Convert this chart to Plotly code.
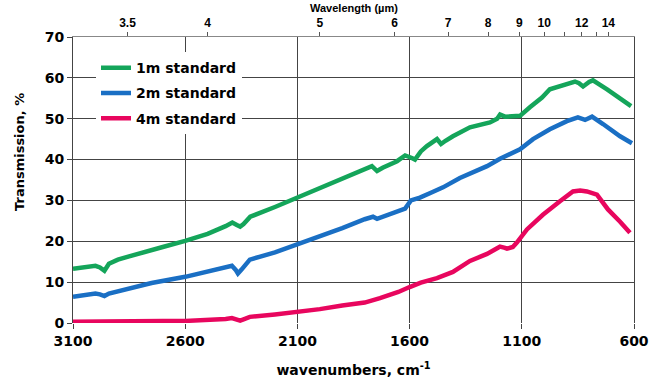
import plotly.graph_objects as go

# ---- data ----
wn_1m = [3100, 3050, 3000, 2980, 2960, 2940, 2900, 2850, 2800, 2700, 2600, 2500, 2420, 2390,
         2370, 2355, 2340, 2310, 2200, 2100, 2000, 1900, 1800, 1768, 1745, 1720, 1656, 1620,
         1590, 1576, 1550, 1523, 1478, 1460, 1440, 1407, 1331, 1270, 1242, 1210, 1197, 1175,
         1108, 1064, 1010, 975, 930, 863, 845, 827, 800, 783, 720, 662, 613]
t_1m = [13.3, 13.7, 14.0, 13.6, 12.8, 14.5, 15.5, 16.3, 17.0, 18.6, 20.1, 21.8, 23.7, 24.6,
        24.0, 23.6, 24.2, 26.0, 28.4, 30.7, 33.0, 35.5, 37.6, 38.4, 37.2, 38.0, 39.6, 41.0,
        40.4, 40.0, 42.0, 43.3, 45.0, 43.8, 44.6, 45.7, 47.9, 48.6, 49.1, 50.0, 51.0, 50.5,
        50.7, 52.8, 55.2, 57.2, 57.9, 59.1, 58.7, 57.9, 59.0, 59.4, 57.2, 55.0, 53.1]

wn_2m = [3100, 3050, 3000, 2980, 2960, 2940, 2900, 2846, 2750, 2600, 2500, 2420, 2392, 2375,
         2365, 2350, 2312, 2200, 2100, 2000, 1900, 1800, 1763, 1745, 1700, 1652, 1620, 1594,
         1554, 1500, 1451, 1376, 1300, 1255, 1197, 1108, 1050, 975, 899, 850, 818, 787, 738,
         662, 609]
t_2m = [6.4, 6.8, 7.2, 7.0, 6.6, 7.2, 7.8, 8.6, 9.8, 11.3, 12.6, 13.6, 14.0, 13.0,
        12.1, 13.0, 15.5, 17.3, 19.2, 21.1, 23.2, 25.4, 26.0, 25.5, 26.5, 27.3, 28.0, 30.0,
        30.7, 32.0, 33.2, 35.5, 37.3, 38.4, 40.2, 42.5, 45.0, 47.4, 49.4, 50.3, 49.7, 50.5, 48.7,
        45.7, 44.0]

wn_4m = [3100, 3000, 2900, 2800, 2700, 2600, 2500, 2420, 2392, 2370, 2355, 2340, 2312, 2200,
         2100, 2000, 1900, 1800, 1732, 1700, 1650, 1600, 1550, 1478, 1440, 1407, 1331, 1255,
         1210, 1197, 1175, 1166, 1140, 1122, 1077, 1006, 930, 872, 840, 810, 765, 716, 662, 618]
t_4m = [0.3, 0.4, 0.4, 0.4, 0.5, 0.5, 0.7, 1.0, 1.2, 0.8, 0.6, 0.9, 1.5, 2.1,
        2.7, 3.4, 4.3, 5.0, 6.1, 6.6, 7.6, 8.8, 9.9, 11.0, 11.8, 12.5, 15.2, 16.9,
        18.3, 18.7, 18.4, 18.2, 18.6, 19.7, 22.9, 26.5, 29.8, 32.2, 32.4, 32.2, 31.4, 27.8, 24.8, 22.1]

series_names = ["1m standard", "2m standard", "4m standard"]
series_colors = ["#14a55a", "#1a6fc4", "#e8065e"]

wn_ticks = [3100, 2600, 2100, 1600, 1100, 600]
y_ticks = [0, 10, 20, 30, 40, 50, 60, 70]
wavelength_um = [3.5, 4, 5, 6, 7, 8, 9, 10, 12, 14]
wavelength_labels = ["3.5", "4", "5", "6", "7", "8", "9", "10", "12", "14"]
wavelength_minor_um = [11, 13]

# ---- figure ----
fig = go.Figure()
for wn, t, name, col in zip([wn_1m, wn_2m, wn_4m], [t_1m, t_2m, t_4m], series_names, series_colors):
    fig.add_trace(go.Scatter(x=wn, y=t, mode="lines", name=name, legendgroup=name,
                             line=dict(color=col, width=4.5)))

# invisible trace to activate top axis
fig.add_trace(go.Scatter(x=[3100, 600], y=[0, 0], xaxis="x2", mode="lines",
                         line=dict(width=0), showlegend=False, hoverinfo="skip"))

main_font = "DejaVu Sans"
grid_col = "#444444"

fig.update_layout(
    width=654, height=379,
    margin=dict(l=73, r=20, t=37, b=56),
    paper_bgcolor="white", plot_bgcolor="white",
    font=dict(family=main_font, color="black"),
    showlegend=True,
    legend=dict(x=0.041, y=0.947, xanchor="left", yanchor="top",
                bgcolor="white", borderwidth=0,
                font=dict(family=main_font, size=14, weight="bold", color="black"),
                itemwidth=30, tracegroupgap=4),
    xaxis=dict(range=[3100, 600], tickvals=wn_ticks, ticktext=[str(v) for v in wn_ticks],
               showgrid=True, gridcolor=grid_col, gridwidth=1, automargin=False,
               ticks="outside", ticklen=5, tickcolor=grid_col,
               showline=False, zeroline=False,
               tickfont=dict(family=main_font, size=14, weight="bold"),
               title=dict(text="wavenumbers, cm<sup>-1</sup>", standoff=17,
                          font=dict(family=main_font, size=14, weight="bold"))),
    xaxis2=dict(range=[3100, 600], overlaying="x", side="top", anchor="y", automargin=False,
                tickvals=[10000 / w for w in wavelength_um], ticktext=wavelength_labels,
                minor=dict(tickmode="array", tickvals=[10000 / w for w in wavelength_minor_um],
                           ticks="outside", ticklen=4, tickcolor="#555555", showgrid=False),
                showgrid=False, zeroline=False, showline=True, linecolor="#888888",
                ticks="outside", ticklen=4, tickcolor="#555555",
                tickfont=dict(family="Liberation Sans", size=12, weight="bold")),
    yaxis=dict(range=[0, 70], tickvals=y_ticks, showgrid=True, gridcolor=grid_col, gridwidth=1,
               zeroline=False, showline=True, linecolor=grid_col, mirror=True, automargin=False,
               ticks="outside", ticklen=5, tickcolor=grid_col,
               tickfont=dict(family=main_font, size=14, weight="bold")),
    annotations=[
        dict(text="Wavelength (µm)", xref="paper", yref="paper", x=0.5, y=1,
             xanchor="center", yanchor="middle", yshift=29, showarrow=False,
             font=dict(family="Liberation Sans", size=11, weight="bold", color="black")),
        dict(text="Transmission, %", xref="paper", yref="paper", x=0, y=0.598,
             xanchor="center", yanchor="middle", xshift=-53, textangle=-90, showarrow=False,
             font=dict(family=main_font, size=13, weight="bold", color="black")),
    ],
)

# remove the default page margin so the figure fills the window exactly
fig.write_html("out.html", config={"displayModeBar": False},
               post_script="document.body.style.margin='0';")
